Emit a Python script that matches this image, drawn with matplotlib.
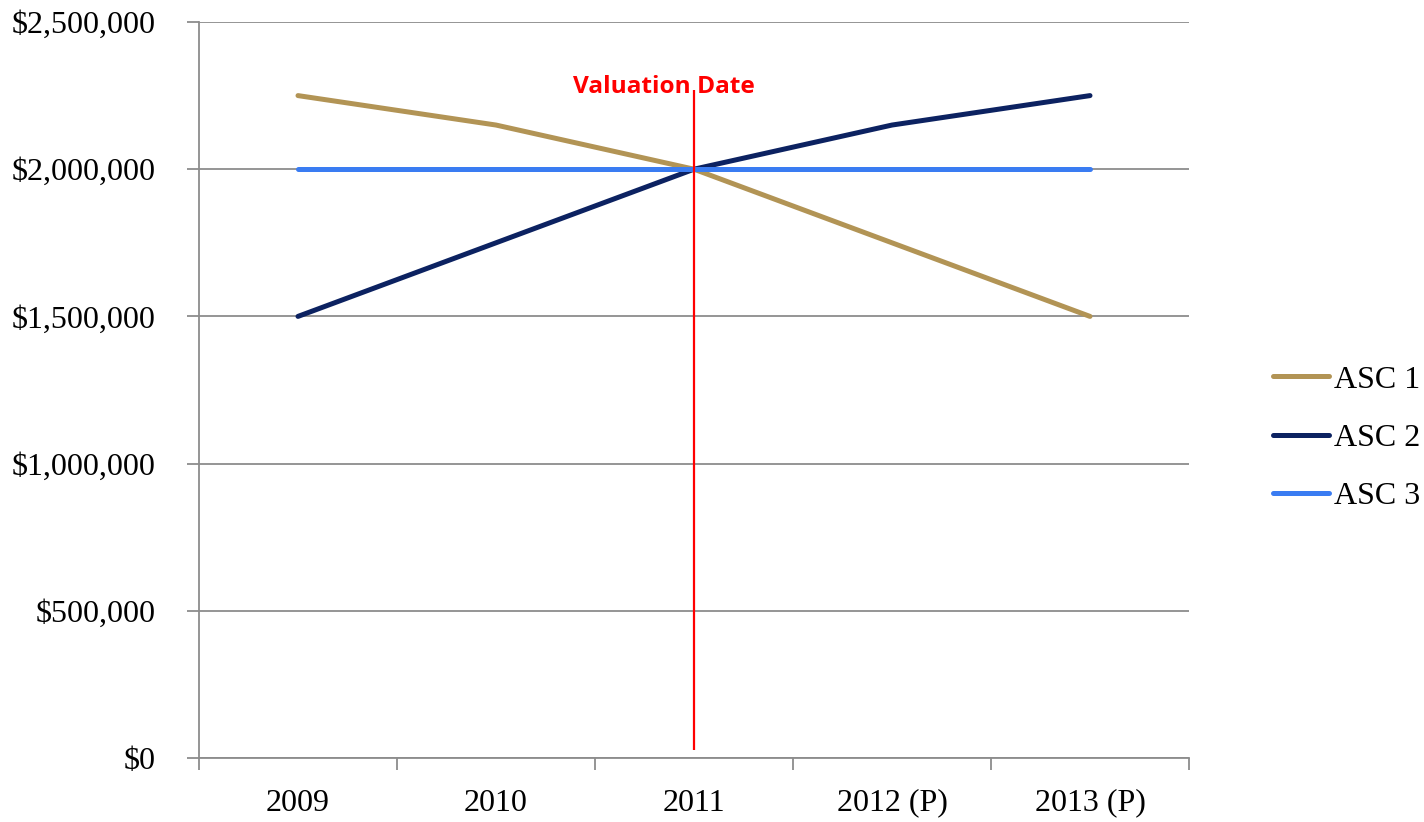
import matplotlib
matplotlib.use("Agg")
import matplotlib.pyplot as plt
from matplotlib.ticker import FuncFormatter, FixedLocator

# data
years = ["2009", "2010", "2011", "2012 (P)", "2013 (P)"]
asc1 = [2250000, 2150000, 2000000, 1750000, 1500000]
asc2 = [1500000, 1750000, 2000000, 2150000, 2250000]
asc3 = [2000000, 2000000, 2000000, 2000000, 2000000]
series_names = ["ASC 1", "ASC 2", "ASC 3"]
series_colors = ["#B29455", "#0C2261", "#3A7CF2"]
valuation_idx = 2
valuation_span = (27000, 2269000)

plt.rcParams["font.family"] = ["Liberation Serif", "DejaVu Serif"]

fig = plt.figure(figsize=(14.24, 8.22), dpi=100)
ax = fig.add_axes([199 / 1424, 1 - 758 / 822, 990 / 1424, 736 / 822])

x = list(range(len(years)))
for vals, name, col in zip([asc1, asc2, asc3], series_names, series_colors):
    ax.plot(x, vals, color=col, lw=3.6, label=name, solid_capstyle="round", zorder=3)

# valuation date marker
ax.vlines(valuation_idx, *valuation_span, color="#FF0000", lw=1.6, zorder=4)
ax.text(valuation_idx - 0.15, 2259000, "Valuation Date", color="#FF0000",
        family=["Open Sans", "DejaVu Sans"], fontweight="bold", fontsize=17.6,
        ha="center", va="baseline", zorder=5)

ax.set_xlim(-0.5, len(years) - 0.5)
ax.set_ylim(0, 2500000)
ax.set_yticks(range(0, 2500001, 500000))
ax.yaxis.set_major_formatter(FuncFormatter(lambda v, p: f"${v:,.0f}"))
ax.grid(axis="y", color="#8C8C8C", lw=1.3)
ax.set_axisbelow(True)

# category labels centred, tick marks on the boundaries
ax.set_xticks(x)
ax.set_xticklabels(years)
ax.xaxis.set_minor_locator(FixedLocator([i - 0.5 for i in range(len(years) + 1)]))
ax.tick_params(axis="x", which="major", length=0, pad=22, labelsize=23)
ax.tick_params(axis="x", which="minor", length=8.5, width=1.3, color="#8C8C8C")
ax.tick_params(axis="y", length=8.5, width=1.3, color="#8C8C8C", pad=23, labelsize=23)

for s in ["top", "right"]:
    ax.spines[s].set_visible(False)
for s in ["left", "bottom"]:
    ax.spines[s].set_color("#8C8C8C")
    ax.spines[s].set_linewidth(1.3)

ax.legend(loc="center left", bbox_to_anchor=(1273 / 1424, 1 - 438 / 822),
          bbox_transform=fig.transFigure, frameon=False, fontsize=23,
          handlelength=1.75, handletextpad=0.15, labelspacing=0.9,
          borderpad=0, borderaxespad=0)

fig.savefig("out.png", dpi=100)
